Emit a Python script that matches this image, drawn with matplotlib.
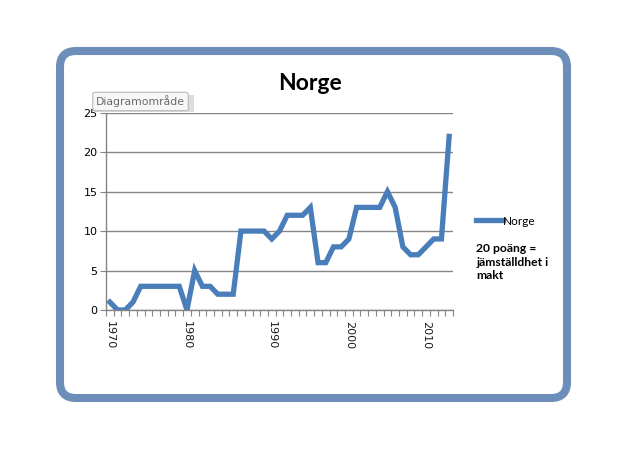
import matplotlib
matplotlib.use('Agg')
import matplotlib.pyplot as plt
from matplotlib.patches import FancyBboxPatch
import numpy as np

plt.rcParams['font.family'] = ['Lato', 'DejaVu Sans']

# data, one point per row of the source sheet
values = [1, 0, 0, 1, 3, 3, 3, 3, 3, 3,
          0, 5, 3, 3, 2, 2, 2, 10, 10, 10,
          10, 9, 10, 12, 12, 12, 13, 6, 6, 8,
          8, 9, 13, 13, 13, 13, 15, 13, 8, 7,
          7, 8, 9, 9, 22]
tick_pos = [0, 10, 21, 31, 41]
tick_labels = ['1970', '1980', '1990', '2000', '2010']
series_name = 'Norge'
note = '20 poäng =\njämställdhet i\nmakt'

W, H = 634, 469
fig = plt.figure(figsize=(W / 100, H / 100), dpi=100)

# background layer in pixel coords for the rounded frame
bg = fig.add_axes([0, 0, 1, 1], zorder=-1)
bg.set_xlim(0, W)
bg.set_ylim(H, 0)
bg.axis('off')
frame = FancyBboxPatch((60, 51), 507, 347,
                       boxstyle='round,pad=0,rounding_size=16',
                       facecolor='white', edgecolor='#6E8EBA', linewidth=5.8)
bg.add_patch(frame)
# little drop shadow under the tooltip box
bg.add_patch(plt.Rectangle((94, 95), 100, 17, facecolor='#DDDDDD',
                           edgecolor='none'))

ax = fig.add_axes([106 / W, 1 - 310 / H, 347 / W, (310 - 112.7) / H])
x = np.arange(len(values))
line, = ax.plot(x, values, color='#4A7EBB', linewidth=3.8,
                solid_joinstyle='miter', label=series_name)

ax.set_xlim(-0.5, len(values) - 0.5)
ax.set_ylim(0, 25)
ax.set_yticks(range(0, 26, 5))
ax.set_xticks(tick_pos)
ax.set_xticklabels(tick_labels, rotation=-90, family='DejaVu Sans',
                   fontsize=8, color='#1A1A1A')
ax.set_xticks(np.arange(-0.5, len(values)), minor=True)
ax.tick_params(axis='x', which='major', length=0, pad=8)
ax.tick_params(axis='x', which='minor', length=4, color='#868686', width=0.8)
ax.tick_params(axis='y', length=4, color='#868686', width=0.8, pad=2)
for lab in ax.get_yticklabels():
    lab.set_family('DejaVu Sans')
    lab.set_fontsize(8)

ax.grid(axis='y', color='#868686', linewidth=1)
ax.set_axisbelow(True)
for s in ['top', 'right']:
    ax.spines[s].set_visible(False)
for s in ['left', 'bottom']:
    ax.spines[s].set_color('#868686')
    ax.spines[s].set_linewidth(1)

fig.text(310 / W, 1 - 83 / H, 'Norge', ha='center', va='center',
         fontsize=16.5, fontweight='bold')

# legend
leg = fig.legend(handles=[line], loc='center left',
                 bbox_to_anchor=(465 / W, 1 - 221 / H), frameon=False,
                 handlelength=2.3, handletextpad=0.05, fontsize=8.5)
fig.text(476 / W, 1 - 243 / H, note, ha='left', va='top',
         fontsize=8.7, fontweight='bold', linespacing=1.3)

fig.text(96 / W, 1 - 101.5 / H, 'Diagramområde', ha='left', va='center',
         fontsize=7.8, color='#6A6A6A', family='DejaVu Sans',
         bbox=dict(boxstyle='round,pad=0.3,rounding_size=0.2',
                   facecolor='#F7F7F7', edgecolor='#B8B8B8', linewidth=0.8))

fig.savefig('out.png', dpi=100)
